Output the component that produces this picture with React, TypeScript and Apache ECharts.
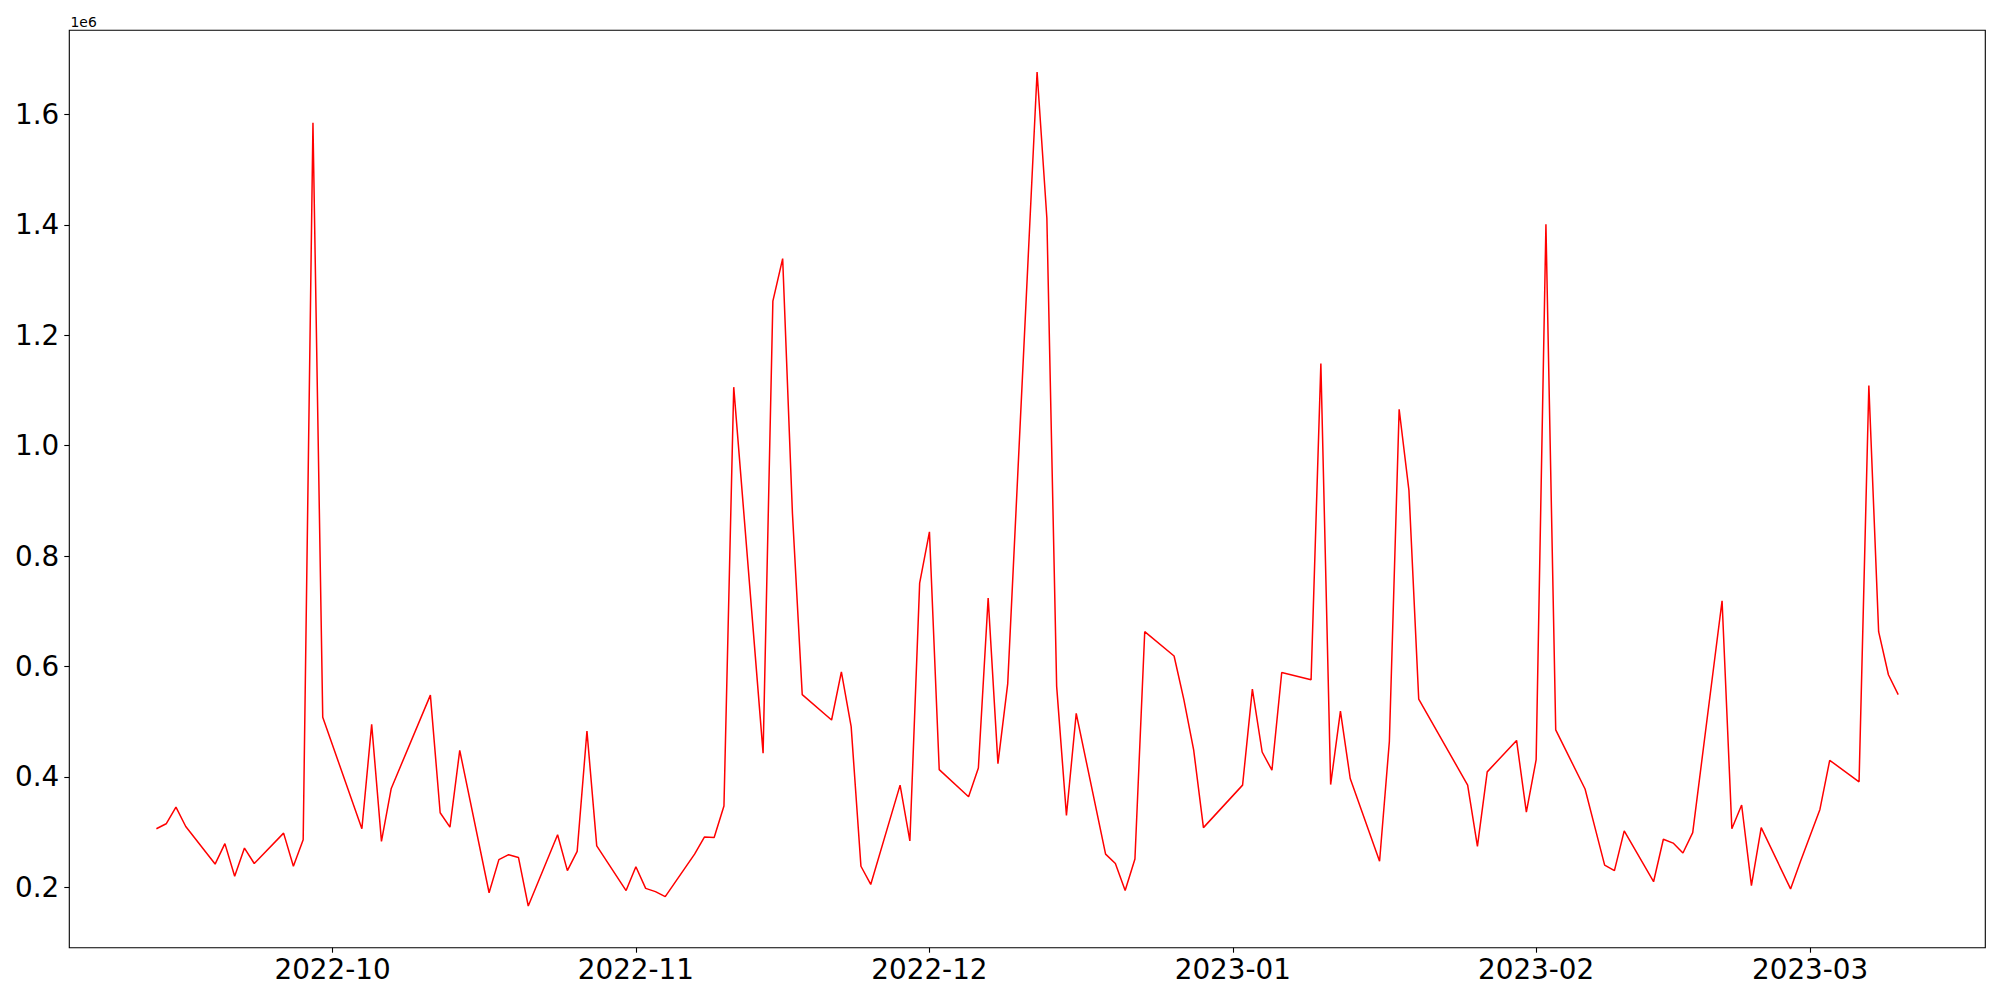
import React, { useEffect, useRef } from "react";
import * as echarts from "echarts";

const dates: string[] = [
  "2022-09-13", "2022-09-14", "2022-09-15", "2022-09-16",
  "2022-09-19", "2022-09-20", "2022-09-21", "2022-09-22", "2022-09-23",
  "2022-09-26", "2022-09-27", "2022-09-28", "2022-09-29", "2022-09-30",
  "2022-10-04", "2022-10-05", "2022-10-06", "2022-10-07",
  "2022-10-11", "2022-10-12", "2022-10-13", "2022-10-14",
  "2022-10-17", "2022-10-18", "2022-10-19", "2022-10-20", "2022-10-21",
  "2022-10-24", "2022-10-25", "2022-10-26", "2022-10-27", "2022-10-28",
  "2022-10-31", "2022-11-01", "2022-11-02", "2022-11-03", "2022-11-04",
  "2022-11-07", "2022-11-08", "2022-11-09", "2022-11-10", "2022-11-11",
  "2022-11-14", "2022-11-15", "2022-11-16", "2022-11-17", "2022-11-18",
  "2022-11-21", "2022-11-22", "2022-11-23", "2022-11-24", "2022-11-25",
  "2022-11-28", "2022-11-29", "2022-11-30", "2022-12-01", "2022-12-02",
  "2022-12-05", "2022-12-06", "2022-12-07", "2022-12-08", "2022-12-09",
  "2022-12-12", "2022-12-13", "2022-12-14", "2022-12-15", "2022-12-16",
  "2022-12-19", "2022-12-20", "2022-12-21", "2022-12-22", "2022-12-23",
  "2022-12-26", "2022-12-27", "2022-12-28", "2022-12-29",
  "2023-01-02", "2023-01-03", "2023-01-04", "2023-01-05", "2023-01-06",
  "2023-01-09", "2023-01-10", "2023-01-11", "2023-01-12", "2023-01-13",
  "2023-01-16", "2023-01-17", "2023-01-18", "2023-01-19", "2023-01-20",
  "2023-01-25", "2023-01-26", "2023-01-27",
  "2023-01-30", "2023-01-31", "2023-02-01", "2023-02-02", "2023-02-03",
  "2023-02-06", "2023-02-07", "2023-02-08", "2023-02-09", "2023-02-10",
  "2023-02-13", "2023-02-14", "2023-02-15", "2023-02-16", "2023-02-17",
  "2023-02-20", "2023-02-21", "2023-02-22", "2023-02-23", "2023-02-24",
  "2023-02-27", "2023-02-28", "2023-03-02", "2023-03-03",
  "2023-03-06", "2023-03-07", "2023-03-08", "2023-03-09", "2023-03-10",
];

const values: number[] = [
  306000, 315000, 345000, 310000,
  242000, 279000, 220000, 271000, 243000,
  298000, 238000, 286000, 1585000, 508000,
  306000, 495000, 283000, 379000,
  548000, 335000, 309000, 448000,
  190000, 250000, 259000, 254000, 166000,
  295000, 230000, 265000, 483000, 275000,
  194000, 237000, 198000, 192000, 183000,
  260000, 291000, 290000, 347000, 1106000,
  443000, 1262000, 1339000, 877000, 549000,
  503000, 590000, 491000, 238000, 205000,
  385000, 284000, 751000, 844000, 413000,
  364000, 416000, 724000, 424000, 569000,
  1677000, 1412000, 564000, 330000, 515000,
  260000, 243000, 194000, 251000, 663000,
  619000, 540000, 449000, 308000,
  385000, 559000, 445000, 412000, 589000,
  576000, 1149000, 386000, 519000, 397000,
  247000, 464000, 1066000, 919000, 541000,
  385000, 274000, 409000,
  466000, 336000, 431000, 1401000, 485000,
  378000, 309000, 240000, 230000, 302000,
  210000, 287000, 280000, 262000, 299000,
  719000, 306000, 349000, 203000, 308000,
  197000, 246000, 341000, 430000,
  391000, 1109000, 663000, 585000, 549000,
];

const xTickLabels: string[] = ["2022-10", "2022-11", "2022-12", "2023-01", "2023-02", "2023-03"];
const yTickValues: number[] = [200000, 400000, 600000, 800000, 1000000, 1200000, 1400000, 1600000];
const offsetLabel = "1e6";

// days since epoch (UTC) for a "YYYY-MM[-DD]" string
function toDay(s: string): number {
  const p = s.split("-").map(Number);
  return Date.UTC(p[0], p[1] - 1, p[2] || 1) / 86400000;
}

function fmtMonth(day: number): string {
  const d = new Date(Math.round(day) * 86400000);
  const m = d.getUTCMonth() + 1;
  return d.getUTCFullYear() + "-" + (m < 10 ? "0" + m : "" + m);
}

export default function App() {
  const ref = useRef<HTMLDivElement>(null);

  useEffect(() => {
    if (!ref.current) return;
    const chart = echarts.init(ref.current, undefined, { renderer: "svg" });
    const xs = dates.map(toDay);
    const xmin0 = xs[0];
    const xmax0 = xs[xs.length - 1];
    const xspan = xmax0 - xmin0;
    const ymin0 = Math.min(...values);
    const ymax0 = Math.max(...values);
    const yspan = ymax0 - ymin0;
    const xTicks = xTickLabels.map(toDay);
    const font = "DejaVu Sans";

    chart.setOption({
      animation: false,
      grid: {
        left: 69.3,
        right: 14.7,
        top: 30.3,
        bottom: 52.3,
        show: true,
        borderColor: "#000",
        borderWidth: 1.1,
        backgroundColor: "transparent",
        containLabel: false,
      },
      xAxis: {
        type: "value",
        min: xmin0 - 0.05 * xspan,
        max: xmax0 + 0.05 * xspan,
        axisLine: { show: false },
        splitLine: { show: false },
        axisTick: {
          show: true,
          inside: false,
          length: 5,
          customValues: xTicks,
          lineStyle: { color: "#000", width: 1.1 },
        },
        axisLabel: {
          show: true,
          customValues: xTicks,
          margin: 8,
          fontSize: 27.8,
          fontFamily: font,
          color: "#000",
          hideOverlap: false,
          formatter: (v: number) => fmtMonth(v),
        },
      },
      yAxis: {
        type: "value",
        min: ymin0 - 0.05 * yspan,
        max: ymax0 + 0.05 * yspan,
        axisLine: { show: false },
        splitLine: { show: false },
        axisTick: {
          show: true,
          inside: false,
          length: 5,
          customValues: yTickValues,
          lineStyle: { color: "#000", width: 1.1 },
        },
        axisLabel: {
          show: true,
          customValues: yTickValues,
          margin: 10,
          fontSize: 27.8,
          fontFamily: font,
          color: "#000",
          hideOverlap: false,
          formatter: (v: number) => (v / 1e6).toFixed(1),
        },
      },
      graphic: [
        {
          type: "text",
          left: 70.5,
          top: 14.5,
          style: {
            text: offsetLabel,
            fontSize: 13.9,
            fontFamily: font,
            fill: "#000",
          },
        },
      ],
      series: [
        {
          type: "line",
          data: xs.map((x, i) => [x, values[i]]),
          showSymbol: false,
          symbol: "none",
          lineStyle: { color: "#ff0000", width: 1.5 },
          itemStyle: { color: "#ff0000" },
          emphasis: { disabled: true },
        },
      ],
    });

    return () => chart.dispose();
  }, []);

  return (
    <div
      ref={ref}
      style={{ position: "fixed", left: 0, top: 0, width: 2000, height: 1000, background: "#fff" }}
    />
  );
}
